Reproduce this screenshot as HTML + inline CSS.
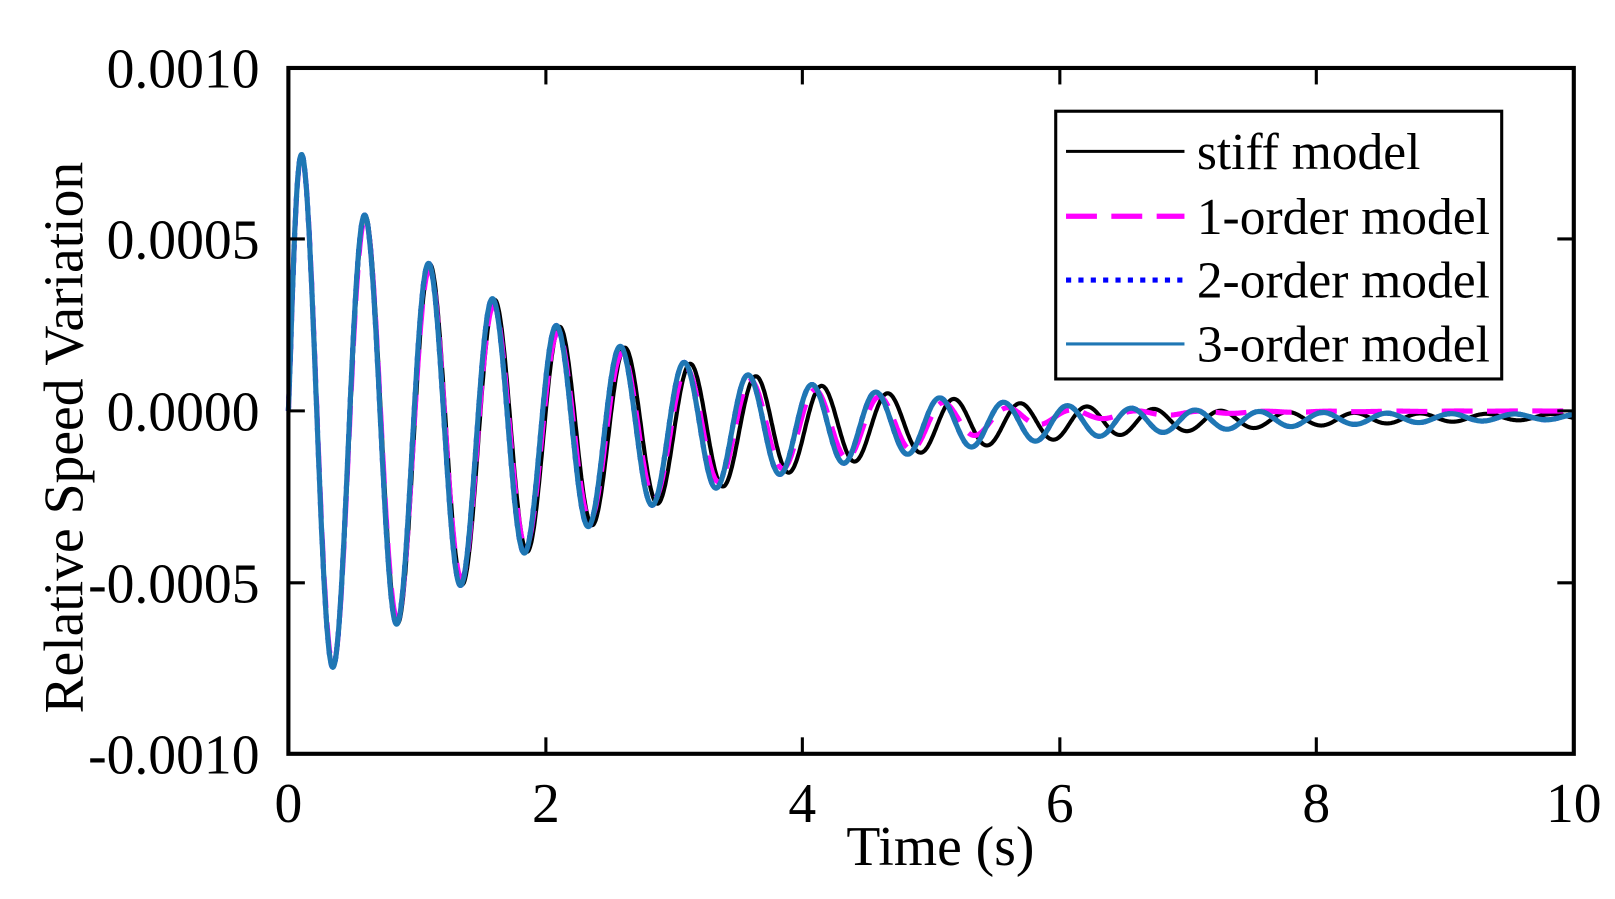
<!DOCTYPE html>
<html><head><meta charset="utf-8"><style>
html,body{margin:0;padding:0;background:#fff;}
svg{display:block;font-family:"Liberation Serif",serif;}
</style></head><body>
<svg id="s" width="1615" height="899" viewBox="0 0 1568 873" preserveAspectRatio="none" xmlns="http://www.w3.org/2000/svg">
<g id="curves" fill="none" stroke-linejoin="round"></g>
<rect x="280" y="66" width="1248" height="666" fill="none" stroke="#000" stroke-width="4"/>
<g stroke="#000" stroke-width="3">
<line x1="530" y1="732" x2="530" y2="716"/><line x1="779" y1="732" x2="779" y2="716"/><line x1="1029" y1="732" x2="1029" y2="716"/><line x1="1278" y1="732" x2="1278" y2="716"/>
<line x1="530" y1="66" x2="530" y2="82"/><line x1="779" y1="66" x2="779" y2="82"/><line x1="1029" y1="66" x2="1029" y2="82"/><line x1="1278" y1="66" x2="1278" y2="82"/>
<line x1="280" y1="232" x2="296" y2="232"/><line x1="280" y1="399" x2="296" y2="399"/><line x1="280" y1="566" x2="296" y2="566"/>
<line x1="1528" y1="232" x2="1512" y2="232"/><line x1="1528" y1="399" x2="1512" y2="399"/><line x1="1528" y1="566" x2="1512" y2="566"/>
</g>
<g font-size="54" fill="#000" text-anchor="end">
<text x="252" y="85">0.0010</text><text x="252" y="251">0.0005</text><text x="252" y="418">0.0000</text><text x="252" y="585">-0.0005</text><text x="252" y="751">-0.0010</text>
</g>
<g font-size="54" fill="#000" text-anchor="middle">
<text x="280" y="798">0</text><text x="530" y="798">2</text><text x="779" y="798">4</text><text x="1029" y="798">6</text><text x="1278" y="798">8</text><text x="1528" y="798">10</text>
<text x="913" y="840">Time (s)</text>
<text transform="translate(80,425) rotate(-90)" font-size="54">Relative Speed Variation</text>
</g>
<rect x="1025" y="108" width="433" height="260" fill="#fff" stroke="#000" stroke-width="3"/>
<line x1="1035" y1="147" x2="1150" y2="147" stroke="#000" stroke-width="3"/>
<line x1="1035" y1="210" x2="1150" y2="210" stroke="#f0f" stroke-width="5" stroke-dasharray="30,14"/>
<line x1="1035" y1="272" x2="1150" y2="272" stroke="#00f" stroke-width="5" stroke-dasharray="5,7"/>
<line x1="1035" y1="334" x2="1150" y2="334" stroke="#1f77b4" stroke-width="3"/>
<g font-size="50" fill="#000">
<text x="1162" y="164">stiff model</text><text x="1162" y="227">1-order model</text><text x="1162" y="289">2-order model</text><text x="1162" y="351">3-order model</text>
</g>
</svg>
<script>
(function(){
var g=document.getElementById('curves');
function X(t){return 280+t*124.8;}
function Y(v){return 399-v*333000;}
function f(t,T,damp,extra){
 var A=0.00083*Math.exp(-damp*t);
 var off=-0.00009*(1-Math.exp(-t/0.5))*Math.exp(-t/6);
 var ramp=1-Math.exp(-t/0.03);
 var v=A*Math.sin(2*Math.PI*(t+0.025)/T)*ramp+off;
 if(extra) v*=extra(t);
 return v;
}
function path(fn){var d='';for(var i=0;i<=2000;i++){var t=i*0.005;d+=(i?'L':'M')+X(t).toFixed(1)+' '+Y(fn(t)).toFixed(1);}return d;}
function add(d,stroke,w,dash){var p=document.createElementNS('http://www.w3.org/2000/svg','path');p.setAttribute('d',d);p.setAttribute('stroke',stroke);p.setAttribute('stroke-width',w);if(dash)p.setAttribute('stroke-dasharray',dash);g.appendChild(p);}
add(path(function(t){return f(t,0.5+0.0015*Math.min(t,8),0.47);}),'#000',4);
add(path(function(t){return f(t,0.5,0.5,function(t){return t>5?Math.exp(-(t-5)*0.8):1;});}),'#f0f',5,'30,14');
add(path(function(t){return f(t,0.497,0.47);}),'#00f',5,'5,7');
add(path(function(t){return f(t,0.497,0.47);}),'#1f77b4',5);
})();
</script>
</body></html>
